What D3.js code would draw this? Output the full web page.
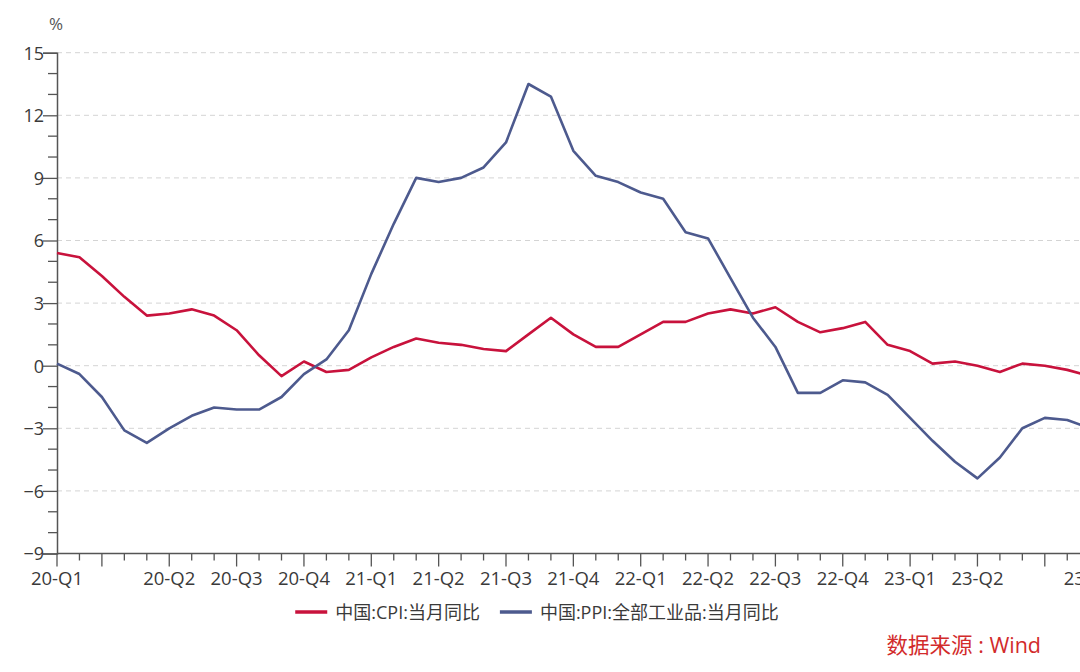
<!DOCTYPE html>
<html><head><meta charset="utf-8">
<script src="https://cdn.jsdelivr.net/npm/d3@7/dist/d3.min.js"></script>
<style>
body{margin:0;background:#fff;}
svg{display:block;}
svg text{font-family:"Open Sans","Noto Sans CJK SC",sans-serif;}
</style></head>
<body><svg id="c" width="1080" height="672"></svg>
<script>
// Months from 2020-01 to 2023-11
const months = d3.range(0, 47).map(i => {
  const y = 2020 + Math.floor(i / 12), m = i % 12 + 1;
  return y + "-" + String(m).padStart(2, "0");
});
const cpi = [5.4,5.2,4.3,3.3,2.4,2.5,2.7,2.4,1.7,0.5,-0.5,0.2,
  -0.3,-0.2,0.4,0.9,1.3,1.1,1.0,0.8,0.7,1.5,2.3,1.5,
  0.9,0.9,1.5,2.1,2.1,2.5,2.7,2.5,2.8,2.1,1.6,1.8,
  2.1,1.0,0.7,0.1,0.2,0.0,-0.3,0.1,0.0,-0.2,-0.5];
const ppi = [0.1,-0.4,-1.5,-3.1,-3.7,-3.0,-2.4,-2.0,-2.1,-2.1,-1.5,-0.4,
  0.3,1.7,4.4,6.8,9.0,8.8,9.0,9.5,10.7,13.5,12.9,10.3,
  9.1,8.8,8.3,8.0,6.4,6.1,4.2,2.3,0.9,-1.3,-1.3,-0.7,
  -0.8,-1.4,-2.5,-3.6,-4.6,-5.4,-4.4,-3.0,-2.5,-2.6,-3.0];
// x-axis labels: month index -> text
const xLabelIdx = [0, 5, 8, 11, 14, 17, 20, 23, 26, 29, 32, 35, 38, 41, 46];
const xLabelTxt = ["20-Q1","20-Q2","20-Q3","20-Q4","21-Q1","21-Q2","21-Q3","21-Q4",
  "22-Q1","22-Q2","22-Q3","22-Q4","23-Q1","23-Q2","23-Q4"];
const yTicks = [15, 12, 9, 6, 3, 0, -3, -6, -9];
const seriesNames = ["中国:CPI:当月同比", "中国:PPI:全部工业品:当月同比"];
const seriesColors = ["#c8123c", "#4d5a8e"];

const svg = d3.select("#c");
const x0 = 57, step = 22.45;
const x = d3.scaleLinear().domain([0, 46]).range([x0, x0 + 46 * step]);
const y = d3.scaleLinear().domain([-9, 15]).range([553.5, 52.7]);
const xRight = 1100;
const txtColor = "#3a3a3a";

// grid
svg.append("g").selectAll("line").data(yTicks.filter(d => d !== -9)).join("line")
  .attr("x1", x0).attr("x2", xRight)
  .attr("y1", d => y(d)).attr("y2", d => y(d))
  .attr("stroke", "#d4d4d4").attr("stroke-width", 1).attr("stroke-dasharray", "5,4");

// y axis
const axisColor = "#555";
const yAx = svg.append("g").attr("transform", `translate(${x0},0)`)
  .call(d3.axisLeft(y).tickValues(yTicks).tickSize(14).tickFormat(d3.format("d")));
yAx.attr("font-family", null).attr("font-size", null);
yAx.select(".domain").attr("stroke", axisColor).attr("stroke-width", 1.5);
yAx.selectAll(".tick line").attr("stroke", axisColor).attr("stroke-width", 1.3);
yAx.selectAll(".tick text").style("font-size", "18px").attr("fill", txtColor).attr("x", -13).attr("dy", "0.35em");
// minor y ticks
yAx.append("g").selectAll("line").data(d3.range(-9, 16).filter(v => v % 3 !== 0)).join("line")
  .attr("x1", -9).attr("x2", 0).attr("y1", d => y(d)).attr("y2", d => y(d))
  .attr("stroke", axisColor).attr("stroke-width", 1.3);

svg.append("text").attr("x", 56).attr("y", 30).attr("text-anchor", "middle")
  .style("font-size", "17px").attr("fill", "#555").text("%");

// x axis
const xb = y(-9);
svg.append("line").attr("x1", x0).attr("x2", xRight).attr("y1", xb).attr("y2", xb)
  .attr("stroke", axisColor).attr("stroke-width", 1.5);
svg.append("g").selectAll("line").data(d3.range(0, 47)).join("line")
  .attr("x1", d => x(d)).attr("x2", d => x(d))
  .attr("y1", xb).attr("y2", d => (d === 0 || d % 3 === 2) ? xb + 13 : xb + 7)
  .attr("stroke", axisColor).attr("stroke-width", 1.3);
svg.append("g").selectAll("text").data(xLabelIdx).join("text")
  .attr("x", d => x(d)).attr("y", 585).attr("text-anchor", "middle")
  .style("font-size", "18.5px").attr("fill", txtColor)
  .text((d, i) => xLabelTxt[i]);

// lines
const line = d3.line().x((d, i) => x(i)).y(d => y(d));
[cpi, ppi].forEach((s, k) => {
  svg.append("path").datum(s).attr("d", line).attr("fill", "none")
    .attr("stroke", seriesColors[k]).attr("stroke-width", 2.6).attr("stroke-linejoin", "round");
});

// legend
const lg = svg.append("g");
let cx = 0;
seriesNames.forEach((n, k) => {
  const g = lg.append("g").attr("transform", `translate(${cx},0)`);
  g.append("line").attr("x1", 0).attr("x2", 32).attr("y1", 612).attr("y2", 612)
    .attr("stroke", seriesColors[k]).attr("stroke-width", 3.5);
  const t = g.append("text").attr("x", 40).attr("y", 619).style("font-size", "18px")
    .attr("fill", txtColor).text(n);
  cx += 40 + t.node().getComputedTextLength() + 20;
});
const lw = cx - 20;
lg.attr("transform", `translate(${537 - lw / 2},0)`);

svg.append("text").attr("x", 1041).attr("y", 653).attr("text-anchor", "end")
  .style("font-size", "21.5px").attr("fill", "#d22b2b").text("数据来源 : Wind");
</script></body></html>
